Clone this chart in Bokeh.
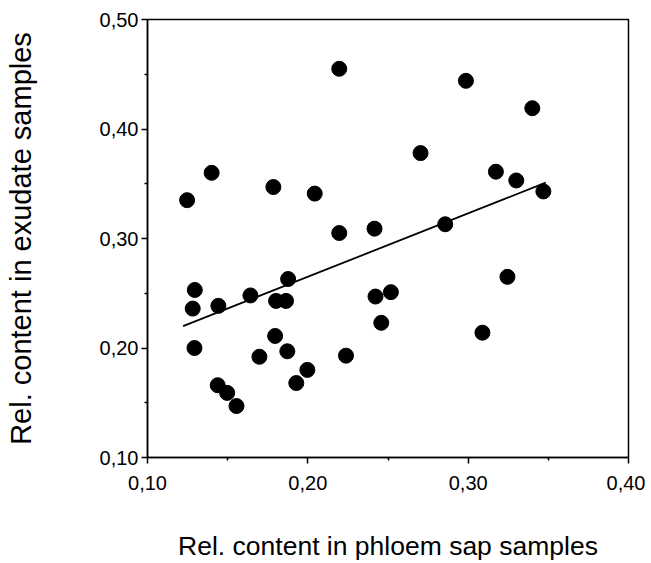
from bokeh.plotting import figure
from bokeh.models import FixedTicker, Range1d
from bokeh.embed import file_html
from bokeh.resources import INLINE

# Data
phloem = [0.2196, 0.140, 0.1247, 0.1785, 0.2043, 0.2196, 0.2416, 0.2986, 0.340,
          0.2703, 0.3173, 0.330, 0.3469, 0.2857, 0.1295, 0.1282, 0.1293, 0.1442,
          0.1642, 0.1802, 0.1864, 0.1877, 0.1796, 0.1698, 0.1872, 0.1438, 0.1497,
          0.1555, 0.1928, 0.1997, 0.2238, 0.2422, 0.2518, 0.2458, 0.3245, 0.3089]
exudate = [0.455, 0.360, 0.335, 0.347, 0.341, 0.305, 0.309, 0.444, 0.419,
           0.378, 0.361, 0.353, 0.343, 0.313, 0.253, 0.236, 0.200, 0.2385,
           0.248, 0.243, 0.243, 0.263, 0.211, 0.192, 0.197, 0.166, 0.159,
           0.147, 0.168, 0.180, 0.193, 0.247, 0.251, 0.223, 0.265, 0.214]

fit_x = [0.1222, 0.3484]
fit_y = [0.220, 0.351]

x_ticks = [0.10, 0.20, 0.30, 0.40]
x_tick_labels = ["0,10", "0,20", "0,30", "0,40"]
x_minor = [0.15, 0.25, 0.35]
y_ticks = [0.10, 0.20, 0.30, 0.40, 0.50]
y_tick_labels = ["0,10", "0,20", "0,30", "0,40", "0,50"]
y_minor = [0.15, 0.25, 0.35, 0.45]

x_title = "Rel. content in phloem sap samples"
y_title = "Rel. content in exudate samples"

FONT = "Liberation Sans"

p = figure(width=645, height=563, output_backend="svg", toolbar_location=None,
           x_range=Range1d(0.10, 0.40), y_range=Range1d(0.10, 0.50),
           min_border_left=147, min_border_right=17, min_border_top=19, min_border_bottom=106)

p.grid.visible = False
p.outline_line_color = "black"
p.outline_line_width = 1.5
p.background_fill_color = "white"
p.border_fill_color = "white"

p.line(fit_x, fit_y, line_color="black", line_width=1.8)
p.scatter(phloem, exudate, size=15, fill_color="black", line_color="black")

p.xaxis.ticker = FixedTicker(ticks=x_ticks, minor_ticks=x_minor)
p.yaxis.ticker = FixedTicker(ticks=y_ticks, minor_ticks=y_minor)
p.xaxis.major_label_overrides = dict(zip(x_ticks, x_tick_labels))
p.yaxis.major_label_overrides = dict(zip(y_ticks, y_tick_labels))

for ax in (p.xaxis, p.yaxis):
    ax.axis_line_color = "black"
    ax.axis_line_width = 1.5
    ax.major_tick_line_color = "black"
    ax.major_tick_line_width = 1.5
    ax.minor_tick_line_color = "black"
    ax.minor_tick_line_width = 1.5
    ax.major_tick_out = 6
    ax.major_tick_in = 0
    ax.minor_tick_out = 3
    ax.minor_tick_in = 0
    ax.major_label_text_font = FONT
    ax.major_label_text_font_size = "20px"
    ax.major_label_text_color = "black"
    ax.axis_label_text_font = FONT
    ax.axis_label_text_font_style = "normal"
    ax.axis_label_text_color = "black"

p.xaxis.axis_label = x_title
p.xaxis.axis_label_text_font_size = "26.5px"
p.xaxis.major_label_standoff = 12
p.xaxis.axis_label_standoff = 38

p.yaxis.axis_label = y_title
p.yaxis.axis_label_text_font_size = "29px"
p.yaxis.major_label_standoff = 3
p.yaxis.axis_label_standoff = 60

open("out.html", "w").write(file_html(p, INLINE))
